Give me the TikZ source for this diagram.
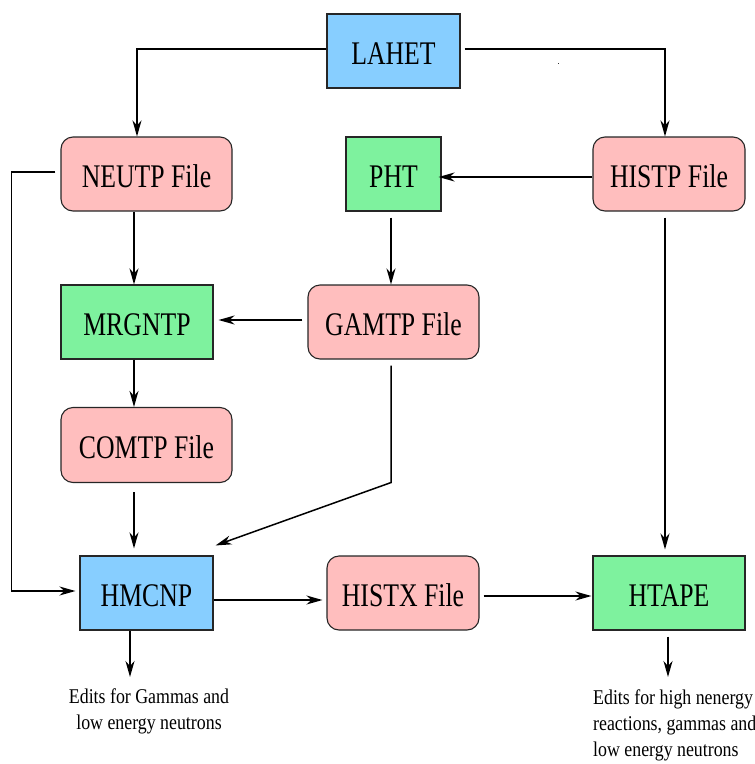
\documentclass[tikz,border=0pt]{standalone}
\usepackage{fontspec}
\setmainfont{Liberation Serif}[FakeStretch=0.78]
\newfontfamily\notefont{Liberation Serif}[FakeStretch=0.85]
\usetikzlibrary{arrows.meta,calc}

\definecolor{filepink}{HTML}{FFBEBE}
\definecolor{codegreen}{HTML}{7EF29E}
\definecolor{driverblue}{HTML}{87CEFF}

\tikzset{
  box/.style={draw=black!85, line width=1.1pt, minimum height=74pt,
    inner sep=0pt, text height=26pt, text depth=0pt,
    font=\fontsize{33}{33}\selectfont},
  filebox/.style={box, fill=filepink, rounded corners=12pt},
  codebox/.style={box, fill=codegreen},
  driverbox/.style={box, fill=driverblue},
  flow/.style={line width=1.5pt, -{Stealth[length=16pt,width=9pt,inset=5pt]}},
  note/.style={font=\notefont\fontsize{21}{26}\selectfont, inner sep=0pt},
}

\begin{document}
\begin{tikzpicture}[x=1pt, y=-1pt]
\useasboundingbox (0,0) rectangle (755,764);

% programs and files
\node[driverbox, minimum width=133pt] (lahet)  at (393.5,51)  {LAHET};
\node[filebox,   minimum width=171pt] (neutp)  at (146.5,174) {NEUTP File};
\node[codebox,   minimum width=95pt]  (pht)    at (393.5,174) {PHT};
\node[filebox,   minimum width=152pt] (histp)  at (669,174)   {HISTP File};
\node[codebox,   minimum width=152pt] (mrgntp) at (137,322)   {MRGNTP};
\node[filebox,   minimum width=171pt] (gamtp)  at (393.5,322) {GAMTP File};
\node[filebox,   minimum width=171pt, minimum height=75pt] (comtp) at (146.5,445) {COMTP File};
\node[driverbox, minimum width=133pt] (hmcnp)  at (146.5,593) {HMCNP};
\node[filebox,   minimum width=152pt] (histx)  at (403,593)   {HISTX File};
\node[codebox,   minimum width=152pt] (htape)  at (669,593)   {HTAPE};

% edit outputs
\node[note, anchor=north, align=center] (edits1) at (149,689)
  {Edits for Gammas and\\low energy neutrons};
\node[note, anchor=north west, align=left] (edits2) at (593,690)
  {Edits for high nenergy\\reactions, gammas and\\low energy neutrons};

% connectors
\draw[flow] ($(lahet.west)+(0,-2)$) -| ($(neutp.north)+(-9.5,0)$);
\draw[flow] ($(lahet.east)+(4,-2)$) -| ($(histp.north)+(-4,0)$);
\draw[flow] ($(histp.west)+(0,3)$) -- ($(pht.east)+(-3,3)$);
\draw[flow] ($(pht.south)+(-2.5,6)$) -- ($(gamtp.north)+(-2.5,0)$);
\draw[flow] ($(neutp.south)+(-12.5,0)$) -- ($(mrgntp.north)+(-3,0)$);
\draw[flow] ($(gamtp.west)+(-5,-2)$) -- ($(mrgntp.east)+(5,-2)$);
\draw[flow] ($(mrgntp.south)+(-3,0)$) -- ($(comtp.north)+(-12.5,0)$);
\draw[flow] ($(comtp.south)+(-12.5,9)$) -- ($(hmcnp.north)+(-12.5,-7)$);
\draw[flow] ($(gamtp.south)+(-2.5,6)$) -- ($(gamtp.south)+(-2.5,123)$)
  -- ($(hmcnp.north east)+(2,-10)$);
\draw[flow] ($(neutp.west)+(-5,-2)$) -- ++(-44,0) |- ($(hmcnp.west)+(-4,-2)$);
\draw[flow] ($(hmcnp.east)+(0,7)$) -- ($(histx.west)+(-4,7)$);
\draw[flow] ($(histx.east)+(4,3)$) -- ($(htape.west)+(-1,3)$);
\draw[flow] ($(histp.south)+(-4,6)$) -- ($(htape.north)+(-4,-6)$);
\draw[flow] ($(hmcnp.south)+(-16.5,0)$) -- ($(edits1.north)+(-19,-12)$);
\draw[flow] ($(htape.south)+(-1,6)$) -- ($(edits2.north west)+(75,-13)$);

% small speck to the right of the top connector
\fill[black!80] (557.5,62.5) rectangle ++(1.3,1.3);
\end{tikzpicture}
\end{document}
